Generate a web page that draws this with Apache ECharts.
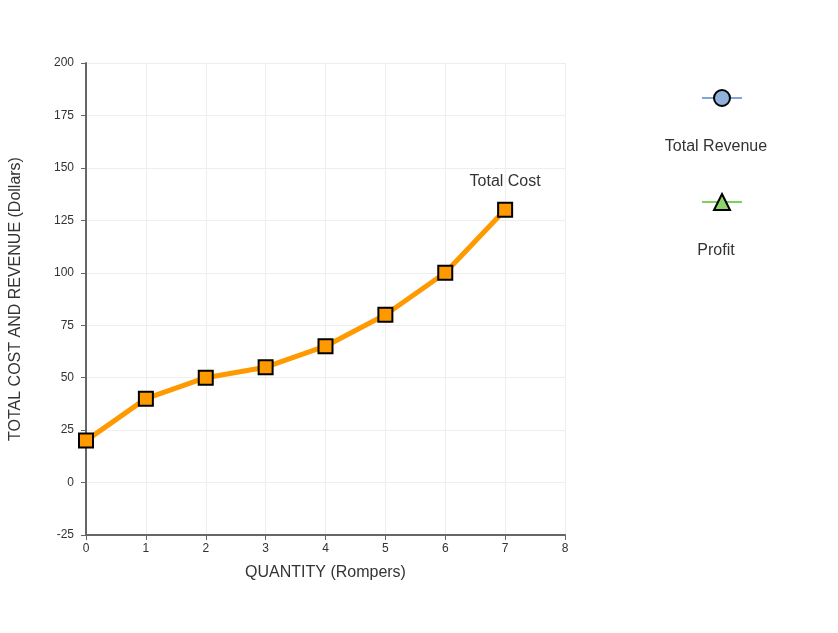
<!DOCTYPE html>
<html><head><meta charset="utf-8">
<script src="https://cdn.jsdelivr.net/npm/echarts@6/dist/echarts.min.js"></script>
<style>html,body{margin:0;background:#fff}#c{width:838px;height:633px}</style>
</head><body><div id="c"></div>
<script>
var quantities = [0, 1, 2, 3, 4, 5, 6, 7];
var totalCost = [20, 40, 50, 55, 65, 80, 100, 130];
var yTicks = [-25, 200, 25];

var chart = echarts.init(document.getElementById('c'));
var font = 'Arial, "Liberation Sans", sans-serif';
var option = {
  textStyle: { fontFamily: font },
  grid: { left: 85, right: 273, top: 63, bottom: 98 },
  legend: [
    { data: ['Total Revenue'], left: 696, top: 83, itemWidth: 40, itemHeight: 20, formatter: function () { return ''; } },
    { data: ['Profit'], left: 696, top: 187, itemWidth: 40, itemHeight: 20, formatter: function () { return ''; } }
  ],
  graphic: [
    { type: 'text', left: 'center', x: 0, style: {} },
    { type: 'text', x: 716, y: 147, style: { text: 'Total Revenue', fill: '#333', font: '16px ' + font, textAlign: 'center', textVerticalAlign: 'middle' } },
    { type: 'text', x: 716, y: 251, style: { text: 'Profit', fill: '#333', font: '16px ' + font, textAlign: 'center', textVerticalAlign: 'middle' } }
  ],
  xAxis: [
    { type: 'value', min: 0, max: 8, interval: 1, position: 'bottom',
      name: 'QUANTITY (Rompers)', nameLocation: 'middle', nameGap: 30,
      nameTextStyle: { color: '#333', fontSize: 16 },
      axisLine: { show: false }, axisTick: { show: false },
      axisLabel: { color: '#333', fontSize: 12 },
      splitLine: { show: true, lineStyle: { color: '#eee' } } },
    { type: 'value', min: 0, max: 8, interval: 1, position: 'bottom',
      axisLine: { onZero: true, lineStyle: { color: '#666', width: 2 } },
      axisTick: { show: true, length: 5, lineStyle: { color: '#666' } },
      axisLabel: { show: false }, splitLine: { show: false } }
  ],
  yAxis: {
    type: 'value', min: yTicks[0], max: yTicks[1], interval: yTicks[2],
    name: 'TOTAL COST AND REVENUE (Dollars)', nameLocation: 'middle', nameGap: 62,
    nameTextStyle: { color: '#333', fontSize: 16 },
    axisLine: { show: true, onZero: false, lineStyle: { color: '#666', width: 2 } },
    axisTick: { show: true, length: 5, lineStyle: { color: '#666' } },
    axisLabel: { color: '#333', fontSize: 12, margin: 12 },
    splitLine: { lineStyle: { color: '#eee' } }
  },
  series: [
    { name: 'Total Cost', type: 'line', xAxisIndex: 0,
      data: quantities.map(function (q, i) { return [q, totalCost[i]]; }),
      lineStyle: { color: '#f90', width: 5 },
      symbol: 'rect', symbolSize: 14,
      itemStyle: { color: '#f90', borderColor: '#000', borderWidth: 2 },
      label: { show: true, position: 'top', distance: 12, color: '#333', fontSize: 16,
        formatter: function (p) { return p.dataIndex === totalCost.length - 1 ? 'Total Cost' : ''; } },
      z: 3 },
    { name: 'Total Revenue', type: 'line', data: [],
      lineStyle: { color: '#7fa6d4', width: 5 }, symbol: 'circle', symbolSize: 14,
      itemStyle: { color: '#8fb1dc', borderColor: '#000', borderWidth: 2 } },
    { name: 'Profit', type: 'line', data: [],
      lineStyle: { color: '#7ed05a', width: 5 }, symbol: 'triangle', symbolSize: 14,
      itemStyle: { color: '#8fd46a', borderColor: '#000', borderWidth: 2 } }
  ]
};
chart.setOption(option);
</script></body></html>
